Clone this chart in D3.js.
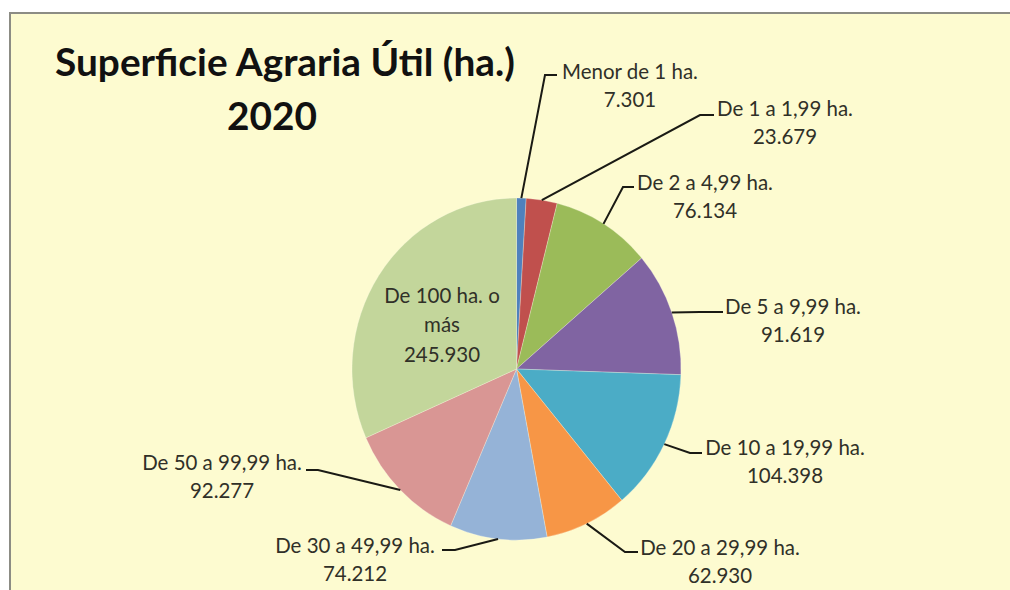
<!DOCTYPE html>
<html lang="es">
<head>
<meta charset="UTF-8">
<title>Superficie Agraria Útil 2020</title>
<script src="https://cdn.jsdelivr.net/npm/d3@7"></script>
<style>
  body { margin: 0; background: #fff; }
  svg { display: block; }
</style>
</head>
<body>
<svg id="chart" width="1010" height="590"></svg>
<script>
// data
var categorias = ["Menor de 1 ha.", "De 1 a 1,99 ha.", "De 2 a 4,99 ha.", "De 5 a 9,99 ha.",
  "De 10 a 19,99 ha.", "De 20 a 29,99 ha.", "De 30 a 49,99 ha.", "De 50 a 99,99 ha.", "De 100 ha. o más"];
var valores = [7301, 23679, 76134, 91619, 104398, 62930, 74212, 92277, 245930];
var etiquetasValor = ["7.301", "23.679", "76.134", "91.619", "104.398", "62.930", "74.212", "92.277", "245.930"];
var colores = ["#4F81BD", "#C0504D", "#9BBB59", "#8064A2", "#4BACC6", "#F79646", "#95B3D7", "#D99694", "#C3D69B"];

// label layout: text centre, first baseline, elbow of the leader, end of the leader
var rotulos = [
  {tx: 630, ty: 79,  ex: 545, ey: 75,  hx: 557},
  {tx: 785, ty: 116, ex: 700, ey: 115, hx: 714},
  {tx: 705, ty: 190, ex: 623, ey: 187, hx: 634},
  {tx: 793, ty: 314, ex: 700, ey: 312, hx: 723},
  {tx: 785, ty: 455, ex: 690, ey: 453, hx: 702},
  {tx: 720, ty: 555, ex: 625, ey: 552, hx: 638},
  {tx: 355, ty: 553, ex: 455, ey: 550, hx: 442},
  {tx: 222, ty: 470, ex: 318, ey: 470, hx: 306},
  null
];

var svg = d3.select('#chart');
var cx = 516.5, cy = 369, rx = 164.5, ry = 171;
var fuente = 'Lato, "Open Sans", sans-serif';
var colTexto = '#303028';

// chart area
svg.append('rect')
  .attr('x', 10).attr('y', 13).attr('width', 1000).attr('height', 577)
  .attr('fill', '#FDFBD0');
svg.append('path')
  .attr('d', 'M10,590 V13 H1010')
  .attr('fill', 'none')
  .attr('stroke', '#8c8c84')
  .attr('stroke-width', 2);

// title
var titulo = svg.append('text')
  .attr('x', 285).attr('y', 76)
  .attr('text-anchor', 'middle')
  .attr('font-family', fuente)
  .attr('font-weight', 'bold')
  .attr('font-size', 34)
  .attr('fill', '#111')
  .text('Superficie Agraria Útil (ha.)');
var fs = 34 * 460 / titulo.node().getComputedTextLength();
titulo.attr('font-size', fs);
svg.append('text')
  .attr('x', 272).attr('y', 130)
  .attr('text-anchor', 'middle')
  .attr('font-family', fuente)
  .attr('font-weight', 'bold')
  .attr('font-size', fs)
  .attr('fill', '#111')
  .text('2020');

// label size fitted so that "De 5 a 9,99 ha." is about as wide as in the picture
var prueba = svg.append('text').attr('font-family', fuente).attr('font-size', 18).text(categorias[3]);
var fsL = 18 * 136 / prueba.node().getComputedTextLength();
prueba.remove();

// pie
var pie = d3.pie().sort(null).value(d => d);
var arcs = pie(valores);
var R = 171;
var arc = d3.arc().innerRadius(0).outerRadius(R);

var g = svg.append('g')
  .attr('transform', 'translate(' + cx + ',' + cy + ') scale(' + (rx / R) + ',1)');
g.selectAll('path')
  .data(arcs)
  .enter().append('path')
  .attr('d', arc)
  .attr('fill', (d, i) => colores[i])
  .attr('stroke', 'rgba(255,255,240,0.35)')
  .attr('stroke-width', 0.8);

// labels
arcs.forEach(function (a, i) {
  var r = rotulos[i];
  if (!r) return;
  var m = (a.startAngle + a.endAngle) / 2;
  var px = cx + rx * Math.sin(m);
  var py = cy - ry * Math.cos(m);
  svg.append('polyline')
    .attr('points', [[px, py], [r.ex, r.ey], [r.hx, r.ey]].map(p => p.join(',')).join(' '))
    .attr('fill', 'none')
    .attr('stroke', '#1a1a14')
    .attr('stroke-width', 2);
  var t = svg.append('text')
    .attr('text-anchor', 'middle')
    .attr('font-family', fuente)
    .attr('font-size', fsL)
    .attr('fill', colTexto);
  t.append('tspan').attr('x', r.tx).attr('y', r.ty).text(categorias[i]);
  t.append('tspan').attr('x', r.tx).attr('y', r.ty + 28).text(etiquetasValor[i]);
});

// label inside the largest slice
var dentro = svg.append('text')
  .attr('text-anchor', 'middle')
  .attr('font-family', fuente)
  .attr('font-size', fsL)
  .attr('fill', colTexto);
dentro.append('tspan').attr('x', 442).attr('y', 303).text('De 100 ha. o');
dentro.append('tspan').attr('x', 442).attr('y', 332).text('más');
dentro.append('tspan').attr('x', 442).attr('y', 362).text(etiquetasValor[8]);
</script>
</body>
</html>
